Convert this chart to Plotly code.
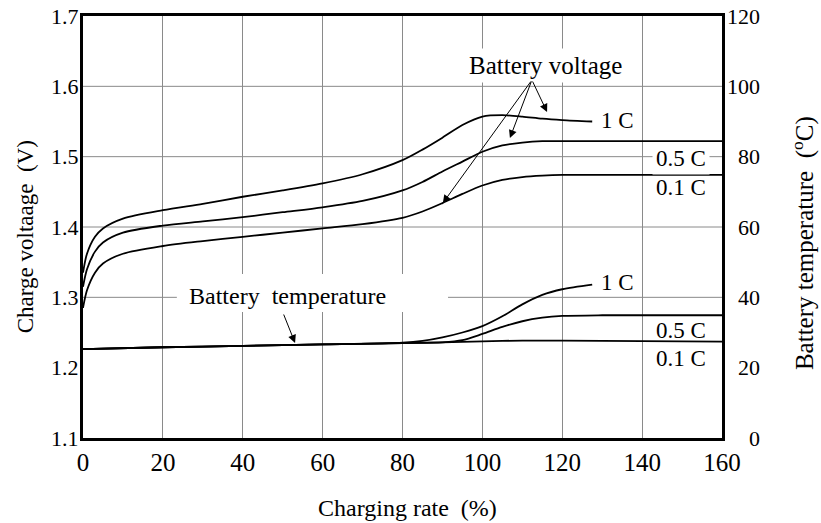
import plotly.graph_objects as go

# ---------------- data ----------------
# Charge voltage curves (V) vs charging rate (%)
v_x_1c = [0, 1, 3, 5, 10, 20, 30, 40, 50, 60, 70, 80, 85, 90, 95, 100, 105, 110, 115, 120, 127.5]
v_1c = [1.335, 1.362, 1.386, 1.398, 1.412, 1.424, 1.433, 1.443, 1.452, 1.462, 1.475, 1.495,
        1.510, 1.527, 1.545, 1.557, 1.559, 1.557, 1.554, 1.552, 1.550]

v_x_05c = [0, 1, 3, 5, 10, 20, 30, 40, 50, 60, 70, 80, 85, 90, 95, 100, 105, 110, 115, 120, 140, 160]
v_05c = [1.315, 1.340, 1.365, 1.378, 1.392, 1.402, 1.408, 1.414, 1.421, 1.428, 1.437, 1.452,
         1.464, 1.479, 1.493, 1.507, 1.516, 1.520, 1.522, 1.522, 1.522, 1.522]

v_x_01c = [0, 1, 3, 5, 10, 20, 30, 40, 50, 60, 70, 80, 85, 90, 95, 100, 105, 110, 115, 120, 140, 160]
v_01c = [1.285, 1.310, 1.335, 1.348, 1.362, 1.373, 1.380, 1.386, 1.392, 1.398, 1.404, 1.413,
         1.422, 1.434, 1.447, 1.459, 1.467, 1.471, 1.473, 1.474, 1.474, 1.474]

# Battery temperature curves (deg C) vs charging rate (%)
t_x_1c = [0, 20, 40, 60, 80, 85, 90, 95, 100, 105, 110, 115, 120, 127.5]
t_1c = [25.3, 25.8, 26.2, 26.6, 27.1, 27.6, 28.6, 30.0, 31.8, 34.6, 38.0, 40.7, 42.3, 43.6]

t_x_05c = [0, 20, 40, 60, 80, 90, 95, 100, 105, 110, 115, 120, 130, 160]
t_05c = [25.3, 25.8, 26.2, 26.6, 27.0, 27.2, 27.8, 29.6, 31.6, 33.2, 34.2, 34.7, 34.9, 34.9]

t_x_01c = [0, 20, 40, 60, 80, 90, 100, 110, 120, 160]
t_01c = [25.3, 25.8, 26.2, 26.6, 27.0, 27.2, 27.5, 27.7, 27.7, 27.4]

x_ticks = [0, 20, 40, 60, 80, 100, 120, 140, 160]
v_ticks = [1.1, 1.2, 1.3, 1.4, 1.5, 1.6, 1.7]
t_ticks = [0, 20, 40, 60, 80, 100, 120]
v_grid = [1.3, 1.4, 1.5, 1.6]

FONT = "Liberation Serif, Times New Roman, serif"

# right-axis labels are right-aligned in the reference: pad with no-break spaces (half a digit each)
t_ticktext = ["\u00a0\u00a0" * (3 - len(str(t))) + str(t) for t in t_ticks]

fig = go.Figure()

line_style = dict(color="black", width=1.8, shape="spline", smoothing=0.8)
for xs, ys in [(v_x_1c, v_1c), (v_x_05c, v_05c), (v_x_01c, v_01c)]:
    fig.add_trace(go.Scatter(x=xs, y=ys, mode="lines", line=line_style,
                             showlegend=False, hoverinfo="skip", yaxis="y"))
for xs, ys in [(t_x_1c, t_1c), (t_x_05c, t_05c), (t_x_01c, t_01c)]:
    fig.add_trace(go.Scatter(x=xs, y=ys, mode="lines", line=line_style,
                             showlegend=False, hoverinfo="skip", yaxis="y2"))

# horizontal grid lines (the reference has no 1.2 line)
for g in v_grid:
    fig.add_shape(type="line", xref="paper", x0=0, x1=1, yref="y", y0=g, y1=g,
                  line=dict(color="#8a8a8a", width=1), layer="below")

# white box behind the "Battery temperature" label
fig.add_shape(type="rect", xref="x", yref="y", x0=23.5, x1=91.4, y0=1.279, y1=1.333,
              fillcolor="white", line=dict(width=0), layer="between")

ann = []
def label(text, x, y, yref="y", xanchor="center", bg=None, size=23):
    d = dict(text=text, x=x, y=y, xref="x", yref=yref, xanchor=xanchor, yanchor="middle",
             showarrow=False, font=dict(family=FONT, size=size, color="black"))
    if bg:
        d.update(bgcolor=bg, borderpad=3)
    ann.append(d)

label("Battery voltage", 115.9, 1.630, bg="white", size=25)
label("Battery\u00a0\u00a0temperature", 51.3, 1.302, size=24)
label("1 C", 129.2, 1.552, xanchor="left")
label("0.5 C", 149.7, 1.498, bg="white")
label("0.1 C", 149.7, 1.456)
label("1 C", 129.2, 44.3, yref="y2", xanchor="left")
label("0.5 C", 149.7, 30.7, yref="y2")
label("0.1 C", 149.7, 22.7, yref="y2")

def arrow(x_tip, y_tip, x_tail, y_tail):
    ann.append(dict(x=x_tip, y=y_tip, ax=x_tail, ay=y_tail, xref="x", yref="y",
                    axref="x", ayref="y", text="", showarrow=True, arrowhead=2,
                    arrowsize=1.6, arrowwidth=1, arrowcolor="black"))

arrow(116.2, 1.5635, 112.4, 1.609)
arrow(106.9, 1.5265, 112.4, 1.609)
arrow(90.1, 1.434, 112.4, 1.609)
arrow(53.1, 1.2351, 50.1, 1.2777)

# axis titles
ann.append(dict(text="Charging rate\u00a0\u00a0(%)", x=0.5086, y=-0.166, xref="paper", yref="paper",
                showarrow=False, xanchor="center", yanchor="middle",
                font=dict(family=FONT, size=24, color="black")))
ann.append(dict(text="Charge voltaage\u00a0\u00a0(V)", x=-0.0908, y=0.478, xref="paper", yref="paper",
                showarrow=False, xanchor="center", yanchor="middle", textangle=-90,
                font=dict(family=FONT, size=23, color="black")))
ann.append(dict(text="Battery temperature\u00a0\u00a0(<sup>o</sup>C)", x=1.1268, y=0.462,
                xref="paper", yref="paper", showarrow=False, xanchor="center", yanchor="middle",
                textangle=-90, font=dict(family=FONT, size=25, color="black")))

fig.update_layout(
    width=821, height=523,
    margin=dict(l=83, r=99, t=16, b=85, autoexpand=False),
    paper_bgcolor="white", plot_bgcolor="white",
    font=dict(family=FONT, color="black"),
    annotations=ann,
    xaxis=dict(range=[0, 160], tickvals=x_ticks, showgrid=True, gridcolor="#8a8a8a", gridwidth=1,
               zeroline=False, showline=True, mirror=True, linecolor="black", linewidth=3,
               ticks="", automargin=False, ticklabeloverflow="allow",
               tickfont=dict(family=FONT, size=25)),
    yaxis=dict(range=[1.1, 1.7], tickvals=v_ticks, tickformat=".1f", showgrid=False,
               zeroline=False, showline=True, mirror=True, linecolor="black", linewidth=3,
               ticks="", automargin=False, ticklabeloverflow="allow", ticklabelstandoff=-3,
               tickfont=dict(family=FONT, size=22)),
    yaxis2=dict(range=[0, 120], tickvals=t_ticks, ticktext=t_ticktext, overlaying="y",
                side="right", showgrid=False, zeroline=False, showline=False, ticks="",
                automargin=False, ticklabeloverflow="allow", ticklabelstandoff=4,
                tickfont=dict(family=FONT, size=22)),
)

# remove the default page margin so the figure sits at the window's top-left corner
fig.write_html("out.html", config={"displayModeBar": False},
               post_script="document.body.style.margin='0';")
